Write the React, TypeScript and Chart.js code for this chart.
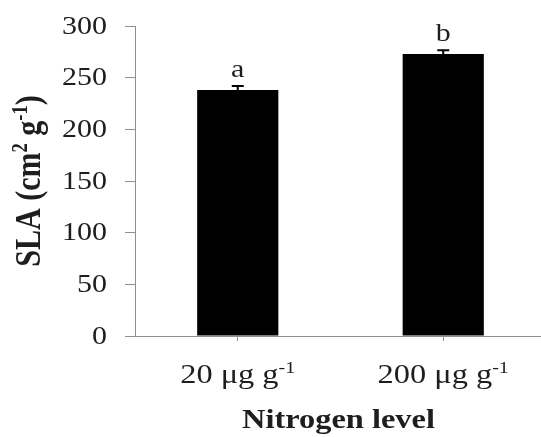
import React, { useEffect, useRef } from 'react';
import { Chart, registerables } from 'chart.js';

Chart.register(...registerables);

// ---- data ----
const categories = ['20 μg g⁻¹', '200 μg g⁻¹'];
const xLabelMain = ['20 μg g', '200 μg g'];
const xLabelSup = ['-1', '-1'];
const slaValues = [238, 273];
const slaErrors = [4, 3.5];
const sigLetters = ['a', 'b'];
const yTicks = [0, 50, 100, 150, 200, 250, 300];
const xTitle = 'Nitrogen level';
const yTitleParts = [
  { t: 'SLA (cm', sup: false },
  { t: '2', sup: true },
  { t: ' g', sup: false },
  { t: '-1', sup: true },
  { t: ')', sup: false },
];

// ---- style ----
const SX = 1.2; // horizontal stretch of the reference text
const SERIF = '"Liberation Serif", "Times New Roman", serif';
const TEXT = '#1e1e1e';
const AXIS = '#8f8f8f';

type Seg = { t: string; sup: boolean };

function fontFor(size: number, bold: boolean) {
  return `${bold ? 'bold ' : ''}${size}px ${SERIF}`;
}

function segWidth(ctx: CanvasRenderingContext2D, segs: Seg[], size: number, bold: boolean) {
  let w = 0;
  for (const s of segs) {
    ctx.font = fontFor(s.sup ? size * 0.62 : size, bold);
    w += ctx.measureText(s.t).width;
  }
  return w;
}

function drawRich(
  ctx: CanvasRenderingContext2D,
  segs: Seg[],
  x: number,
  y: number,
  size: number,
  bold: boolean,
  align: 'center' | 'right',
  rotate = false,
  baseline: CanvasTextBaseline = 'alphabetic'
) {
  ctx.save();
  ctx.translate(x, y);
  ctx.scale(SX, 1);
  if (rotate) ctx.rotate(-Math.PI / 2);
  const total = segWidth(ctx, segs, size, bold);
  let cx = align === 'center' ? -total / 2 : -total;
  ctx.fillStyle = TEXT;
  ctx.textAlign = 'left';
  ctx.textBaseline = baseline;
  for (const s of segs) {
    const sz = s.sup ? size * 0.62 : size;
    ctx.font = fontFor(sz, bold);
    ctx.fillText(s.t, cx, s.sup ? -size * 0.36 : 0);
    cx += ctx.measureText(s.t).width;
  }
  ctx.restore();
}

const textPlugin = {
  id: 'refText',
  afterDatasetsDraw(chart: any) {
    const ctx: CanvasRenderingContext2D = chart.ctx;
    const xs = chart.scales.x;
    const ys = chart.scales.y;
    const area = chart.chartArea;
    const meta = chart.getDatasetMeta(0);

    // error bars + letters
    meta.data.forEach((bar: any, i: number) => {
      const v = slaValues[i];
      const e = slaErrors[i];
      const yTop = ys.getPixelForValue(v);
      const yCap = ys.getPixelForValue(v + e);
      ctx.save();
      ctx.strokeStyle = '#000';
      ctx.lineWidth = 2;
      ctx.beginPath();
      ctx.moveTo(bar.x, yTop);
      ctx.lineTo(bar.x, yCap);
      ctx.moveTo(bar.x - 6, yCap);
      ctx.lineTo(bar.x + 6, yCap);
      ctx.stroke();
      ctx.restore();
      drawRich(ctx, [{ t: sigLetters[i], sup: false }], bar.x, yCap - 9, 25, false, 'center');
    });

    // y tick labels
    yTicks.forEach((t) => {
      drawRich(ctx, [{ t: String(t), sup: false }], area.left - 28, ys.getPixelForValue(t) + 1, 25, false, 'right', false, 'middle');
    });

    // x tick labels
    categories.forEach((_c, i) => {
      const x = xs.getPixelForValue(i);
      drawRich(
        ctx,
        [
          { t: xLabelMain[i], sup: false },
          { t: xLabelSup[i], sup: true },
        ],
        x,
        383,
        27,
        false,
        'center'
      );
    });

    // x title
    const cx = (xs.getPixelForValue(0) + xs.getPixelForValue(1)) / 2 - 2;
    drawRich(ctx, [{ t: xTitle, sup: false }], cx, 428, 27, true, 'center');

    // y title
    drawRich(ctx, yTitleParts, 40, 181, 30, true, 'center', true);
  },
};

export default function App() {
  const ref = useRef<HTMLCanvasElement | null>(null);

  useEffect(() => {
    if (!ref.current) return;
    const chart = new Chart(ref.current, {
      type: 'bar',
      data: {
        labels: categories,
        datasets: [
          {
            data: slaValues,
            backgroundColor: '#000',
            borderWidth: 0,
            categoryPercentage: 1,
            barPercentage: 0.395,
          },
        ],
      },
      options: {
        responsive: false,
        animation: false,
        events: [],
        layout: { padding: { top: 26, right: 0, left: 0, bottom: 0 } },
        plugins: { legend: { display: false }, tooltip: { enabled: false } },
        scales: {
          x: {
            offset: true,
            grid: {
              offset: false,
              drawOnChartArea: false,
              drawTicks: true,
              tickLength: 5,
              color: AXIS,
              lineWidth: 1,
            },
            border: { display: true, color: AXIS, width: 1 },
            ticks: { display: false },
            afterFit: (s: any) => {
              s.height = 101;
            },
          },
          y: {
            min: 0,
            max: 300,
            afterBuildTicks: (s: any) => {
              s.ticks = yTicks.map((v) => ({ value: v }));
            },
            grid: {
              drawOnChartArea: false,
              drawTicks: true,
              tickLength: 10,
              color: AXIS,
              lineWidth: 1,
            },
            border: { display: true, color: AXIS, width: 1 },
            ticks: { display: false },
            afterFit: (s: any) => {
              s.width = 135;
            },
          },
        },
      },
      plugins: [textPlugin],
    });
    return () => chart.destroy();
  }, []);

  return (
    <div style={{ position: 'fixed', left: 0, top: 0, width: 541, height: 437, overflow: 'hidden', background: '#fff' }}>
      <canvas ref={ref} width={546} height={437} style={{ display: 'block' }} />
    </div>
  );
}
